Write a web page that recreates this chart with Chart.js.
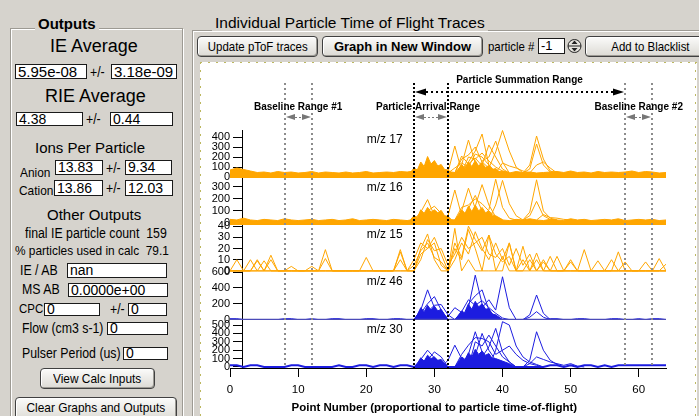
<!DOCTYPE html>
<html>
<head>
<meta charset="utf-8">
<title>Particle time of flight traces</title>
<script src="https://cdn.jsdelivr.net/npm/chart.js@4.4.1/dist/chart.umd.min.js"></script>
<style>
  html, body { margin: 0; padding: 0; }
  body { width: 699px; height: 416px; overflow: hidden; position: relative; background: #d6d3cd;
         font-family: "Liberation Sans", Arial, sans-serif; color: #000; }
  .t { position: absolute; white-space: nowrap; line-height: 1; }
  .n { transform: scaleX(0.88); transform-origin: left center; }
  .nc { display: inline-block; transform: scaleX(0.88); transform-origin: center; }
  .box { position: absolute; box-sizing: border-box; background: #fff; border: 1px solid #1a1a1a;
         padding-left: 2px; white-space: nowrap; overflow: hidden; font-size: 14px; }
  .btn { position: absolute; box-sizing: border-box; border: 1px solid #404040; border-radius: 4px;
         background: linear-gradient(#fbfbfa, #dcdad4); box-shadow: inset -1px -1px 0 #9c9a94, inset 1px 1px 0 #fff;
         text-align: center; white-space: nowrap; overflow: hidden; font-size: 13px; }
  .group { position: absolute; box-sizing: border-box; border: 1px solid #9d9a93; box-shadow: 1px 1px 0 #fff, inset 1px 1px 0 #fff; }
  .legend { position: absolute; background: #d6d3cd; padding: 0 3px; line-height: 1; white-space: nowrap; }
  #frame { position: absolute; left: 200px; top: 62px; width: 497px; height: 360px; background: #fff; }
  #frame .h { position: absolute; left: 0; right: 0; height: 1px;
              background: repeating-linear-gradient(90deg, #bdb860 0 2px, transparent 2px 8px); }
  #frame .v { position: absolute; top: 0; bottom: 0; width: 1px;
              background: repeating-linear-gradient(180deg, #bdb860 0 2px, transparent 2px 8px); }
  #plot { position: absolute; left: 200px; top: 63px; }
</style>
</head>
<body>

<!-- Outputs panel -->
<div class="group" style="left:10px;top:28px;width:173px;height:400px"></div>
<div class="legend" style="left:35px;top:16px;font-size:15px;font-weight:bold">Outputs</div>

<div class="t" style="left:50px;top:37px;font-size:18px">IE Average</div>
<div class="box" style="left:15px;top:64px;width:72px;height:15px;line-height:13px;font-size:15px">5.95e-08</div>
<div class="t n" style="left:90px;top:65px;font-size:14px">+/-</div>
<div class="box" style="left:111px;top:64px;width:66px;height:15px;line-height:13px;font-size:15px">3.18e-09</div>

<div class="t" style="left:45px;top:87px;font-size:18px">RIE Average</div>
<div class="box" style="left:16px;top:112px;width:67px;height:14px;line-height:12px">4.38</div>
<div class="t n" style="left:86px;top:112px;font-size:14px">+/-</div>
<div class="box" style="left:110px;top:112px;width:63px;height:14px;line-height:12px">0.44</div>

<div class="t" style="left:35px;top:140px;font-size:15px">Ions Per Particle</div>
<div class="t n" style="left:20px;top:166px;font-size:13.5px">Anion</div>
<div class="box" style="left:55px;top:160px;width:48px;height:15px;line-height:13px">13.83</div>
<div class="t n" style="left:106px;top:161px;font-size:14px">+/-</div>
<div class="box" style="left:125px;top:160px;width:47px;height:15px;line-height:13px">9.34</div>
<div class="t n" style="left:19px;top:184px;font-size:13.5px">Cation</div>
<div class="box" style="left:54px;top:180px;width:49px;height:16px;line-height:14px">13.86</div>
<div class="t n" style="left:106px;top:181px;font-size:14px">+/-</div>
<div class="box" style="left:125px;top:180px;width:48px;height:16px;line-height:14px">12.03</div>

<div class="t" style="left:47px;top:207px;font-size:15px">Other Outputs</div>
<div class="t n" style="left:25px;top:226px;font-size:14px">final IE particle count&nbsp;&nbsp;159</div>
<div class="t n" style="left:15px;top:244px;font-size:13.5px">% particles used in calc&nbsp;&nbsp;79.1</div>

<div class="t n" style="left:20px;top:263px;font-size:14px">IE / AB</div>
<div class="box" style="left:67px;top:263px;width:100px;height:15px;line-height:13px">nan</div>
<div class="t n" style="left:22px;top:282px;font-size:14px">MS AB</div>
<div class="box" style="left:68px;top:283px;width:100px;height:14px;line-height:12px">0.0000e+00</div>
<div class="t n" style="left:19px;top:302px;font-size:13px">CPC</div>
<div class="box" style="left:44px;top:303px;width:56px;height:13px;line-height:11px">0</div>
<div class="t n" style="left:110px;top:302px;font-size:14px">+/-</div>
<div class="box" style="left:128px;top:303px;width:39px;height:13px;line-height:11px">0</div>
<div class="t n" style="left:22px;top:321px;font-size:14px">Flow (cm3 s-1)</div>
<div class="box" style="left:107px;top:322px;width:61px;height:13px;line-height:11px">0</div>
<div class="t n" style="left:22px;top:346px;font-size:14px">Pulser Period (us)</div>
<div class="box" style="left:123px;top:347px;width:45px;height:13px;line-height:11px">0</div>

<div class="btn" style="left:40px;top:368px;width:115px;height:21px;line-height:19px"><span class="nc" style="font-size:13.5px">View Calc Inputs</span></div>
<div class="btn" style="left:15px;top:397px;width:162px;height:24px;line-height:20px"><span class="nc" style="font-size:13.5px">Clear Graphs and Outputs</span></div>

<!-- Traces panel -->
<div class="group" style="left:192px;top:30px;width:520px;height:400px"></div>
<div class="legend" style="left:212px;top:15px;font-size:15.5px">Individual Particle Time of Flight Traces</div>

<div class="btn" style="left:197px;top:36px;width:121px;height:21px;line-height:19px"><span class="nc">Update pToF traces</span></div>
<div class="btn" style="left:322px;top:36px;width:161px;height:21px;line-height:19px;font-size:13px;font-weight:bold">Graph in New Window</div>
<div class="t n" style="left:488px;top:40px;font-size:13px">particle #</div>
<div class="box" style="left:538px;top:38px;width:27px;height:16px;line-height:14px;font-size:13px">-1</div>
<svg class="t" style="left:567px;top:38px" width="15" height="16" viewBox="0 0 15 16">
  <circle cx="7.5" cy="8" r="6.5" fill="#e6e4de" stroke="#222"/>
  <line x1="1" y1="8" x2="14" y2="8" stroke="#222"/>
  <path d="M7.5 2.5 L4.5 6 H10.5 Z M7.5 13.5 L4.5 10 H10.5 Z" fill="#222"/>
</svg>
<div class="btn" style="left:585px;top:36px;width:130px;height:21px;line-height:19px"><span class="nc">Add to Blacklist</span></div>

<div id="frame"><div class="h" style="top:0"></div><div class="v" style="left:0"></div><div class="v" style="right:1px"></div></div>
<canvas id="plot" width="497" height="353"></canvas>

<script>
// ---- x axis: point number ----
const pointTicks = [0, 10, 20, 30, 40, 50, 60];
const pointRange = [0, 64];
const yAxisAt = 1.75; // the stacked y axes sit a little right of point 0

// ---- range markers (point numbers) ----
const baselineRange1 = [8, 12];
const arrivalRange = [27, 32];
const baselineRange2 = [58, 62];
const summationRange = [27, 58];

// ---- panels, top to bottom ----
const panelIds = ['y17', 'y16', 'y15', 'y46', 'y30'];
const panelNames = ['m/z 17', 'm/z 16', 'm/z 15', 'm/z 46', 'm/z 30'];
const panelTicks = [
  [0, 100, 200, 300, 400],
  [0, 100, 200, 300],
  [0, 10, 20, 30, 40],
  [0, 200, 400, 600],
  [0, 100, 200, 300, 400, 500]
];
const panelMin = [-10, -17, -1, -5, -12];
const panelMax = [470, 375, 41, 600, 560];
const panelWeight = [48, 47, 47, 48, 48];

// ---- m/z 17 ----
const mz17Baseline = [70, 90, 75, 60, 45, 50, 40, 55, 45, 50, 40, 45, 55, 40, 50, 45, 40, 50, 40, 45,
  55, 40, 45, 50, 45, 55, 50, 60, 70, 60, 55, 60, 55, 45, 50, 60, 45, 55, 50, 45,
  50, 40, 55, 45, 50, 40, 45, 50, 55, 45, 60, 45, 50, 40, 55, 45, 50, 45, 50, 60,
  45, 55, 50, 40, 45];
const mz17Arrival = [[26.5, 45], [27, 90], [27.5, 70], [28, 150], [28.5, 105], [29, 205], [29.5, 130],
  [30, 165], [30.5, 110], [31, 125], [31.5, 75], [32, 70], [32.5, 45]];
const mz17Core = [[33, 45], [33.5, 70], [34, 125], [34.5, 85], [35, 150], [35.5, 105], [36, 165],
  [36.5, 110], [37, 140], [37.5, 95], [38, 115], [38.5, 75], [39, 85], [39.5, 55], [40, 60], [41, 45]];
const mz17Traces = [
  [[31, 40], [32, 50], [33, 310], [34, 60], [35, 40]],
  [[33, 40], [34, 120], [35, 370], [36, 140], [37, 60], [38, 40]],
  [[34, 40], [35, 150], [36, 260], [37, 430], [38, 120], [39, 40]],
  [[36, 40], [37, 160], [38, 200], [39, 360], [40, 150], [41, 40]],
  [[37, 40], [38, 90], [39, 250], [40, 465], [41, 260], [42, 100], [43, 40]],
  [[43, 40], [44, 120], [45, 410], [46, 180], [47, 60], [48, 40]],
  [[43, 40], [44, 80], [45, 330], [46, 120], [47, 50], [48, 40]],
  [[33, 40], [34, 180], [35, 220], [36, 300], [37, 150], [38, 90], [39, 60], [40, 40]],
  [[34, 40], [35, 200], [36, 180], [37, 240], [38, 160], [39, 100], [40, 60], [41, 40]],
  [[32, 40], [33, 90], [34, 140], [35, 100], [36, 230], [37, 200], [38, 120], [39, 50], [40, 40]],
  [[36, 40], [37, 120], [38, 320], [39, 200], [40, 80], [41, 40]],
  [[39, 40], [40, 140], [41, 110], [42, 90], [43, 60], [44, 40]],
  [[44, 40], [45, 120], [46, 150], [47, 90], [48, 40]],
  [[33, 40], [34, 210], [35, 130], [36, 190], [37, 110], [38, 60], [39, 40]]
];

// ---- m/z 16 ----
const mz16Baseline = [30, 25, 40, 25, 20, 30, 25, 20, 35, 25, 20, 25, 30, 20, 25, 30, 20, 25, 35, 20,
  25, 30, 25, 20, 30, 25, 20, 30, 40, 35, 30, 35, 30, 25, 30, 20, 25, 35, 25, 30,
  25, 20, 30, 25, 35, 25, 20, 30, 25, 20, 35, 25, 30, 20, 25, 30, 25, 35, 20, 25,
  30, 25, 30, 20, 25];
const mz16Arrival = [[26.5, 28], [27, 60], [27.5, 45], [28, 110], [28.5, 80], [29, 130], [29.5, 90],
  [30, 110], [30.5, 85], [31, 105], [31.5, 60], [32, 55], [32.5, 28]];
const mz16Core = [[33, 28], [33.5, 60], [34, 110], [34.5, 80], [35, 140], [35.5, 95], [36, 150],
  [36.5, 100], [37, 130], [37.5, 85], [38, 100], [38.5, 60], [39, 60], [40, 28]];
const mz16Traces = [
  [[27, 25], [28, 90], [29, 195], [30, 60], [31, 25]],
  [[28, 25], [29, 100], [30, 140], [31, 80], [32, 25]],
  [[31, 25], [32, 60], [33, 275], [34, 60], [35, 25]],
  [[33, 25], [34, 100], [35, 290], [36, 120], [37, 40]],
  [[34, 25], [35, 120], [36, 230], [37, 100], [38, 30]],
  [[35, 25], [36, 140], [37, 320], [38, 150], [39, 50], [40, 25]],
  [[37, 25], [38, 110], [39, 365], [40, 130], [41, 40], [42, 25]],
  [[38, 25], [39, 150], [40, 355], [41, 160], [42, 60], [43, 25]],
  [[43, 25], [44, 90], [45, 360], [46, 100], [47, 40], [48, 25]],
  [[43, 25], [44, 60], [45, 180], [46, 60], [47, 30], [48, 25]],
  [[33, 25], [34, 130], [35, 150], [36, 200], [37, 160], [38, 100], [39, 50], [40, 25]],
  [[45, 25], [46, 70], [47, 45], [48, 40], [49, 30], [50, 25]]
];

// ---- m/z 15 (one value per point) ----
const mz15Traces = [
  [0, 10, 0, 0, 10, 0, 14, 0, 0, 0, 0, 0, 0, 0, 19, 0, 0, 0, 0, 0,
   0, 0, 0, 0, 0, 17, 0, 0, 20, 33, 10, 0, 0, 38, 0, 10, 0, 0, 0, 0,
   0, 25, 0, 0, 0, 16, 0, 0, 0, 0, 10, 0, 0, 0, 0, 0, 0, 17, 0, 0,
   0, 0, 0, 11, 0],
  [0, 0, 0, 10, 0, 9, 0, 0, 0, 4, 0, 0, 4, 0, 11, 0, 0, 0, 0, 0,
   12, 0, 0, 0, 0, 19, 0, 0, 15, 20, 25, 5, 0, 20, 10, 37, 20, 0, 32, 0,
   13, 0, 0, 22, 0, 0, 10, 0, 13, 0, 0, 0, 19, 0, 9, 0, 0, 0, 8, 0,
   0, 8, 0, 0, 6],
  [0, 0, 0, 0, 9, 0, 10, 0, 0, 0, 0, 0, 0, 0, 0, 0, 0, 0, 0, 0,
   0, 0, 0, 0, 0, 10, 0, 10, 25, 20, 30, 15, 0, 10, 25, 15, 35, 20, 10, 25,
   10, 25, 0, 0, 10, 0, 0, 13, 0, 0, 0, 0, 0, 0, 0, 0, 0, 0, 0, 0,
   0, 0, 0, 0, 0],
  [0, 0, 0, 0, 0, 0, 0, 0, 0, 0, 0, 0, 0, 0, 0, 0, 0, 0, 0, 0,
   0, 0, 0, 0, 0, 0, 0, 0, 10, 28, 18, 20, 5, 15, 30, 20, 25, 30, 15, 12,
   20, 5, 20, 5, 15, 0, 8, 0, 0, 0, 8, 0, 0, 0, 0, 0, 10, 0, 0, 0,
   0, 0, 0, 0, 0],
  [0, 0, 0, 0, 0, 0, 0, 0, 0, 0, 0, 0, 0, 0, 0, 0, 0, 0, 0, 0,
   0, 0, 0, 0, 0, 0, 0, 5, 18, 25, 12, 8, 0, 25, 12, 40, 28, 18, 32, 15,
   8, 13, 0, 10, 0, 10, 0, 0, 0, 0, 0, 0, 0, 0, 0, 0, 0, 0, 0, 0,
   0, 0, 0, 0, 0]
];

// ---- m/z 46 ----
const mz46Baseline = [12, 12, 0, 0, 0, 0, 0, 0, 12, 12, 0, 0, 12, 0, 0, 12, 12, 0, 0, 0,
  12, 12, 0, 0, 12, 12, 0, 0, 0, 0, 0, 0, 0, 0, 0, 0, 0, 0, 0, 0,
  0, 0, 0, 0, 0, 0, 0, 12, 12, 0, 0, 12, 12, 0, 0, 0, 12, 12, 0, 0,
  12, 0, 12, 12, 0];
const mz46Arrival = [[27, 0], [27.5, 60], [28, 150], [28.5, 100], [29, 180], [29.5, 120], [30, 170],
  [30.5, 110], [31, 130], [31.5, 60], [32, 0]];
const mz46Core = [[33, 0], [33.5, 50], [34, 110], [34.5, 80], [35, 190], [35.5, 130], [36, 230],
  [36.5, 160], [37, 200], [37.5, 130], [38, 140], [38.5, 70], [39, 60], [40, 0]];
const mz46Traces = [
  [[27, 0], [28, 120], [29, 375], [30, 150], [31, 40], [32, 0]],
  [[27, 0], [28, 80], [29, 200], [30, 290], [31, 120], [32, 0]],
  [[28, 0], [29, 100], [30, 180], [31, 190], [32, 60], [33, 0]],
  [[31, 0], [32, 40], [33, 150], [34, 90], [35, 30], [36, 0]],
  [[34, 0], [35, 150], [36, 560], [37, 200], [38, 60], [39, 0]],
  [[34, 0], [35, 200], [36, 300], [37, 375], [38, 120], [39, 30], [40, 0]],
  [[36, 0], [37, 150], [38, 250], [39, 120], [40, 540], [41, 150], [42, 0]],
  [[43, 0], [44, 60], [45, 310], [46, 80], [47, 0]],
  [[43, 0], [44, 30], [45, 100], [46, 30], [47, 0]],
  [[33, 0], [34, 100], [35, 250], [36, 180], [37, 240], [38, 150], [39, 80], [40, 20], [41, 0]]
];

// ---- m/z 30 ----
const mz30Baseline = [20, 20, 0, 20, 20, 0, 0, 0, 0, 20, 20, 0, 0, 0, 0, 0, 20, 0, 0, 20,
  20, 0, 20, 20, 0, 20, 20, 0, 0, 0, 0, 0, 0, 0, 0, 0, 0, 0, 0, 0,
  0, 0, 0, 0, 0, 0, 0, 20, 20, 0, 20, 0, 20, 20, 0, 20, 0, 20, 20, 20,
  20, 20, 20, 20, 20];
const mz30Arrival = [[27, 0], [27.5, 40], [28, 110], [28.5, 70], [29, 140], [29.5, 100], [30, 120],
  [30.5, 80], [31, 90], [31.5, 40], [32, 0]];
const mz30Core = [[33, 0], [33.5, 60], [34, 120], [34.5, 90], [35, 170], [35.5, 120], [36, 210],
  [36.5, 150], [37, 190], [37.5, 140], [38, 160], [38.5, 100], [39, 100], [40, 70], [41, 40], [42, 0]];
const mz30Traces = [
  [[27, 0], [28, 90], [29, 200], [30, 110], [31, 40], [32, 0]],
  [[28, 0], [29, 80], [30, 180], [31, 120], [32, 0]],
  [[31, 0], [32, 80], [33, 260], [34, 100], [35, 40], [36, 0]],
  [[34, 0], [35, 150], [36, 420], [37, 180], [38, 60], [39, 0]],
  [[35, 0], [36, 140], [37, 400], [38, 200], [39, 80], [40, 0]],
  [[36, 0], [37, 120], [38, 240], [39, 460], [40, 180], [41, 60], [42, 0]],
  [[38, 0], [39, 200], [40, 540], [41, 500], [42, 250], [43, 120], [44, 60], [45, 30], [46, 0]],
  [[43, 0], [44, 80], [45, 420], [46, 200], [47, 80], [48, 30], [49, 0]],
  [[43, 0], [44, 40], [45, 120], [46, 90], [47, 60], [48, 40], [49, 20], [50, 40], [51, 10], [52, 0]],
  [[33, 0], [34, 150], [35, 260], [36, 350], [37, 340], [38, 300], [39, 150], [40, 200], [41, 250], [42, 150], [43, 80], [44, 40], [45, 20], [46, 0]],
  [[35, 0], [36, 300], [37, 250], [38, 380], [39, 250], [40, 120], [41, 60], [42, 0]]
];

const ORANGE = '#ffa600';
const BLUE = '#1c1ce0';
const FONT = '"Liberation Sans", Arial, sans-serif';

const pairs = list => list.map(([x, y]) => ({ x, y }));
const perPoint = values => values.map((y, x) => ({ x, y }));

function trace(data, axis, color, extra) {
  return Object.assign({
    data: data, yAxisID: axis,
    borderColor: color, backgroundColor: color,
    borderWidth: 1, pointRadius: 0, tension: 0, fill: false
  }, extra);
}

const datasets = [];

// orange panels: noisy baseline band, dense arrival hump and core, then single particles
[['y17', mz17Baseline, mz17Arrival, mz17Core, mz17Traces],
 ['y16', mz16Baseline, mz16Arrival, mz16Core, mz16Traces]].forEach(([id, base, hump, core, traces]) => {
  datasets.push(trace(perPoint(base), id, ORANGE, { fill: 'start' }));
  datasets.push(trace(pairs(hump), id, ORANGE, { fill: 'start' }));
  datasets.push(trace(pairs(core), id, ORANGE, { fill: 'start' }));
  traces.forEach(t => datasets.push(trace(pairs(t), id, ORANGE)));
});
mz15Traces.forEach(t => datasets.push(trace(perPoint(t), 'y15', ORANGE)));

// blue panels
datasets.push(trace(pairs([[pointRange[0], 0], [pointRange[1], 0]]), 'y46', '#4b4bb8', { borderWidth: 1.5 }));
datasets.push(trace(perPoint(mz46Baseline), 'y46', BLUE));
datasets.push(trace(pairs(mz46Arrival), 'y46', BLUE, { fill: 'start' }));
datasets.push(trace(pairs(mz46Core), 'y46', BLUE, { fill: 'start' }));
mz46Traces.forEach(t => datasets.push(trace(pairs(t), 'y46', BLUE)));

datasets.push(trace(perPoint(mz30Baseline), 'y30', BLUE, { borderWidth: 2 }));
datasets.push(trace(pairs(mz30Arrival), 'y30', BLUE, { fill: 'start' }));
datasets.push(trace(pairs(mz30Core), 'y30', BLUE, { fill: 'start' }));
mz30Traces.forEach(t => datasets.push(trace(pairs(t), 'y30', BLUE)));

// scales: one shared x axis, five stacked y axes on the left
const scales = {
  x: {
    type: 'linear', min: pointRange[0], max: pointRange[1],
    afterBuildTicks: s => { s.ticks = pointTicks.map(v => ({ value: v })); },
    afterFit: s => { s.height = 48; },
    ticks: { autoSkip: false, maxRotation: 0, padding: 6, color: '#000', font: { size: 11.5 } },
    grid: { drawOnChartArea: false, tickLength: 9, color: '#000' },
    border: { color: '#000' }
  }
};
panelIds.forEach((id, i) => {
  scales[id] = {
    type: 'linear', position: 'left',
    stack: 'panels', stackWeight: panelWeight[i], weight: panelIds.length - i,
    min: panelMin[i], max: panelMax[i],
    afterBuildTicks: s => { s.ticks = panelTicks[i].map(v => ({ value: v })); },
    afterFit: s => { s.width = 30; },
    ticks: { autoSkip: false, padding: 3, color: '#000', font: { size: 11 } },
    grid: { drawOnChartArea: false, tickLength: 9, color: '#000' },
    border: { color: '#000' }
  };
});

// moves the y axes onto yAxisAt and draws the range markers and labels
const rangeMarks = {
  id: 'rangeMarks',
  afterLayout(chart) {
    const at = Math.round(chart.scales.x.getPixelForValue(yAxisAt));
    panelIds.forEach(id => {
      const s = chart.scales[id];
      const dx = at - s.right;
      s.left += dx;
      s.right += dx;
    });
  },
  afterDatasetsDraw(chart) {
    const { ctx, chartArea } = chart;
    const x = chart.scales.x;
    const px = v => Math.round(x.getPixelForValue(v));
    const mid = r => x.getPixelForValue((r[0] + r[1]) / 2);

    const head = (tip, y, dir, len, half, color) => {
      ctx.fillStyle = color;
      ctx.beginPath();
      ctx.moveTo(tip, y);
      ctx.lineTo(tip - dir * len, y - half);
      ctx.lineTo(tip - dir * len, y + half);
      ctx.closePath();
      ctx.fill();
    };
    const vline = (v, color, dash) => {
      ctx.strokeStyle = color;
      ctx.lineWidth = 2;
      ctx.setLineDash(dash);
      ctx.beginPath();
      ctx.moveTo(px(v), 20);
      ctx.lineTo(px(v), chartArea.bottom);
      ctx.stroke();
    };

    ctx.save();
    [...baselineRange1, ...baselineRange2].forEach(v => vline(v, '#8c8c8c', [2, 3]));
    arrivalRange.forEach(v => vline(v, '#000', [2, 2]));

    // summation range arrow
    const sy = 29, sl = px(summationRange[0]), sr = px(summationRange[1]);
    ctx.strokeStyle = '#000';
    ctx.lineWidth = 2;
    ctx.setLineDash([2, 3]);
    ctx.beginPath();
    ctx.moveTo(sl + 12, sy);
    ctx.lineTo(sr - 12, sy);
    ctx.stroke();
    ctx.setLineDash([]);
    head(sl + 1, sy, -1, 11, 3.5, '#000');
    head(sr - 1, sy, 1, 11, 3.5, '#000');

    // small grey double arrows inside each range
    const ay = 54;
    [baselineRange1, arrivalRange, baselineRange2].forEach(([a, b]) => {
      const l = px(a) + 1, r = px(b) - 1;
      const len = Math.min(9, (r - l) / 2 - 3);
      head(l, ay, -1, len, 3, '#777');
      head(r, ay, 1, len, 3, '#777');
      ctx.strokeStyle = '#777';
      ctx.lineWidth = 1;
      ctx.setLineDash([2, 2]);
      ctx.beginPath();
      ctx.moveTo(l + len, ay + 0.5);
      ctx.lineTo(r - len, ay + 0.5);
      ctx.stroke();
      ctx.setLineDash([]);
    });

    ctx.fillStyle = '#000';
    ctx.textAlign = 'center';
    ctx.textBaseline = 'middle';
    ctx.font = 'bold 10px ' + FONT;
    ctx.fillText('Particle Summation Range', mid(summationRange), 17);
    ctx.fillText('Baseline Range #1', mid(baselineRange1), 44);
    ctx.fillText('Particle Arrival Range', mid(arrivalRange) - 3, 44);
    ctx.fillText('Baseline Range #2', mid(baselineRange2), 44);

    ctx.font = '12px ' + FONT;
    panelIds.forEach((id, i) => {
      ctx.fillText(panelNames[i], x.getPixelForValue(22.7), chart.scales[id].top + 10);
    });

    ctx.font = 'bold 11.5px ' + FONT;
    ctx.fillText('Point Number (proportional to particle time-of-flight)', x.getPixelForValue(30), 345);
    ctx.restore();
  }
};

Chart.defaults.font.family = FONT;

new Chart(document.getElementById('plot').getContext('2d'), {
  type: 'line',
  data: { datasets: datasets },
  options: {
    responsive: false,
    animation: false,
    events: [],
    layout: { padding: { left: 0, right: 31, top: 67, bottom: 0 } },
    plugins: { legend: { display: false }, tooltip: { enabled: false } },
    scales: scales
  },
  plugins: [rangeMarks]
});
</script>
</body>
</html>
